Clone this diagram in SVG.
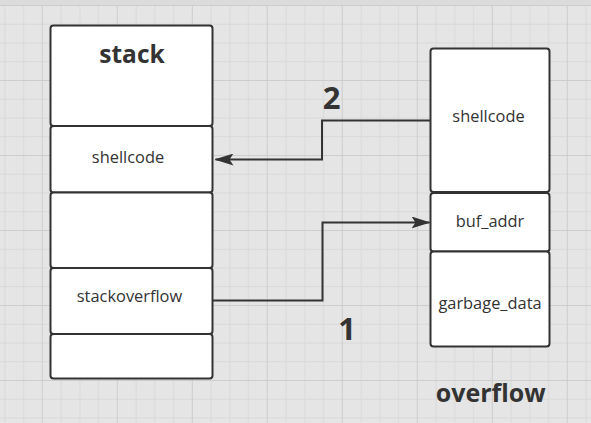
<svg xmlns="http://www.w3.org/2000/svg" width="591" height="423" viewBox="0 0 591 423">
<defs>
<style>
.box{fill:#ffffff;stroke:#333333;stroke-width:2}
.lbl{font-family:"Open Sans","Noto Sans","DejaVu Sans",sans-serif;font-size:16.4px;fill:#333333;text-anchor:middle}
.ttl{font-family:"Open Sans","Noto Sans","DejaVu Sans",sans-serif;font-weight:bold;font-size:24.5px;fill:#333333;text-anchor:middle}
.ttl2{font-family:"Open Sans","Noto Sans","DejaVu Sans",sans-serif;font-weight:bold;font-size:25px;fill:#333333;text-anchor:middle}
.num{font-family:"Open Sans","Noto Sans","DejaVu Sans",sans-serif;font-weight:bold;font-size:31px;fill:#333333;text-anchor:middle}
.conn{fill:none;stroke:#333333;stroke-width:2;marker-end:url(#arrow)}
</style>
<pattern id="grid" x="41.8" y="5" width="75" height="75" patternUnits="userSpaceOnUse">
<path d="M19.25 0V75M38 0V75M56.75 0V75M0 19.25H75M0 38H75M0 56.75H75" stroke="#d9d9d9" stroke-width="1" fill="none"/>
<path d="M0.5 0V75M0 0.5H75" stroke="#cdcdcd" stroke-width="1" fill="none"/>
</pattern>
<marker id="arrow" viewBox="0 0 19 12" refX="18" refY="6" markerWidth="19" markerHeight="12" markerUnits="userSpaceOnUse" orient="auto">
<path d="M0,0 L19,6 L0,12 L4,6 Z" fill="#333333"/>
</marker>
</defs>
<rect x="0" y="0" width="591" height="423" fill="#e5e5e5"/>
<rect x="0" y="5" width="591" height="418" fill="url(#grid)"/>
<rect x="0" y="0" width="591" height="5" fill="#dbdbdb"/>

<g id="stack">
<rect class="box" x="50.5" y="25.5" width="162" height="100.5" rx="3"/>
<rect class="box" x="50.5" y="126" width="162" height="66.5" rx="3"/>
<rect class="box" x="50.5" y="192.5" width="162" height="75.5" rx="3"/>
<rect class="box" x="50.5" y="268" width="162" height="66" rx="3"/>
<rect class="box" x="50.5" y="334" width="162" height="44.5" rx="3"/>
<text class="ttl" x="132" y="62.5">stack</text>
<text class="lbl" x="128" y="162.5">shellcode</text>
<text class="lbl" x="129.5" y="301.5">stackoverflow</text>
</g>

<g id="overflow">
<rect class="box" x="430.5" y="48.5" width="119" height="143.5" rx="3"/>
<rect class="box" x="430.5" y="193" width="119" height="58.5" rx="3"/>
<rect class="box" x="430.5" y="251.5" width="119" height="95" rx="3"/>
<text class="lbl" x="488.5" y="121.5">shellcode</text>
<text class="lbl" x="490" y="226.5">buf_addr</text>
<text class="lbl" x="490" y="308.5">garbage_data</text>
<text class="ttl2" x="490.7" y="401.5">overflow</text>
</g>

<g id="connectors">
<path class="conn" d="M430,120.5 H322 V159.5 H215.5"/>
<path class="conn" d="M213,300.5 H322.5 V222.5 H429.5"/>
<text class="num" x="331.5" y="109">2</text>
<text class="num" x="347" y="339.5">1</text>
</g>
</svg>
